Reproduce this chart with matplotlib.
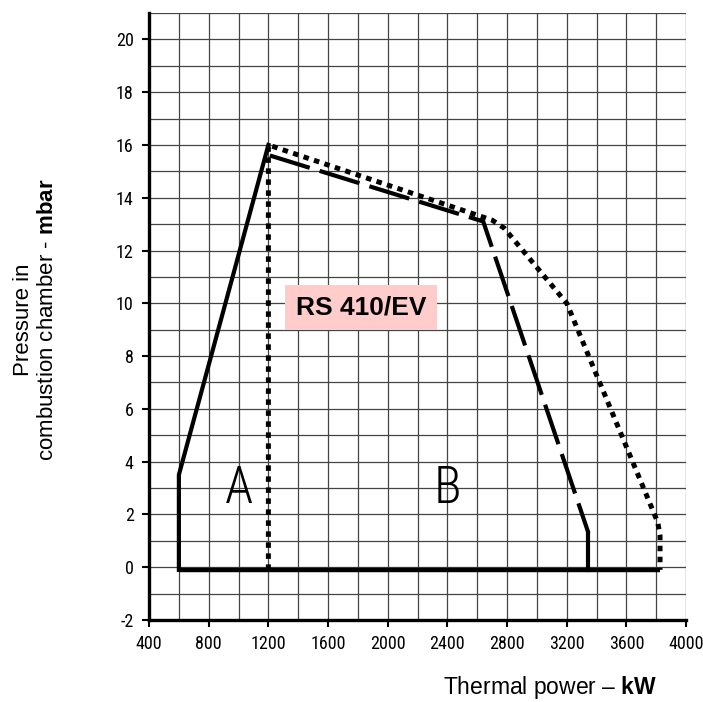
import numpy as np
import matplotlib
matplotlib.use("Agg")
import matplotlib.pyplot as plt
from matplotlib.ticker import MultipleLocator

plt.rcParams['font.family'] = ['Liberation Sans', 'DejaVu Sans']
plt.rcParams['mathtext.fontset'] = 'custom'
plt.rcParams['mathtext.rm'] = 'Liberation Sans'
plt.rcParams['mathtext.bf'] = 'Liberation Sans:bold'
plt.rcParams['axes.unicode_minus'] = False

NARROW = ['Roboto Condensed', 'Archivo Narrow', 'PT Sans Narrow', 'DejaVu Sans']

# --- working field outlines (kW, mbar) ---
# A: solid boundary on the left
a_kw = [600, 600, 1200]
a_mbar = [-0.1, 3.5, 16.0]

# B: long-dash boundary, with the short solid drop at the end
b_kw = [1210, 2640, 3345]
b_mbar = [15.6, 13.1, 1.3]
b_end_kw = [3345, 3345]
b_end_mbar = [1.3, -0.1]

# dotted boundary (max field), starting at the 1200 kW vertical
c_kw = [1200, 1200, 2700, 2780, 3200, 3810, 3825, 3825]
c_mbar = [-0.1, 16.0, 13.15, 12.85, 10.0, 1.7, 1.2, -0.1]

# base line
base_kw = [600, 3825]
base_mbar = [-0.1, -0.1]

x_ticks = np.arange(400, 4001, 400)
y_ticks = np.arange(-2, 21, 2)

fig = plt.figure(figsize=(7.03, 7.02), dpi=100)
ax = fig.add_axes([0.212, 0.1168, 0.764, 0.8647])

ax.set_xlim(400, 4000)
ax.set_ylim(-2, 21)
ax.set_xticks(x_ticks)
ax.set_yticks(y_ticks)
ax.xaxis.set_minor_locator(MultipleLocator(200))
ax.yaxis.set_minor_locator(MultipleLocator(1))
ax.grid(True, which='both', color='#444444', lw=0.9)
ax.tick_params(which='minor', length=0)
ax.tick_params(which='major', length=5, width=1.5, direction='out', pad=6)
for lab in ax.get_xticklabels() + ax.get_yticklabels():
    lab.set_family(NARROW)
    lab.set_fontsize(13)

for s in ['top', 'right']:
    ax.spines[s].set_visible(False)
for s in ['left', 'bottom']:
    ax.spines[s].set_linewidth(2.4)

ax.plot(base_kw, base_mbar, color='black', lw=3.2, solid_capstyle='butt', zorder=4)
ax.plot(a_kw, a_mbar, color='black', lw=3.0, zorder=4)
ax.plot(b_kw, b_mbar, color='black', lw=3.0, ls=(0, (10, 2.5)), zorder=4)
ax.plot(b_end_kw, b_end_mbar, color='black', lw=3.0, zorder=4)
ax.plot(c_kw, c_mbar, color='black', lw=3.6, ls=(0, (1.1, 1.1)), zorder=4)

ax.text(1005, 2.95, 'A', family=NARROW, fontweight='light',
        fontsize=37, ha='center', va='center', zorder=5)
ax.text(2400, 2.95, 'B', family=NARROW, fontweight='light',
        fontsize=37, ha='center', va='center', zorder=5)

ax.text(1821, 9.83, 'RS 410/EV', fontsize=19, fontweight='bold', ha='center', va='center',
        zorder=6, bbox=dict(boxstyle='square,pad=0.4', fc='#ffcccc', ec='none'))

fig.text(0.05, 0.545, 'Pressure in\ncombustion chamber - $\\mathbf{mbar}$', rotation=90,
         fontsize=16, ha='center', va='center', multialignment='center')
fig.text(0.782, 0.02, 'Thermal power \u2013 $\\mathbf{kW}$', fontsize=16.5,
         ha='center', va='center')

fig.savefig('out.png', dpi=100)
